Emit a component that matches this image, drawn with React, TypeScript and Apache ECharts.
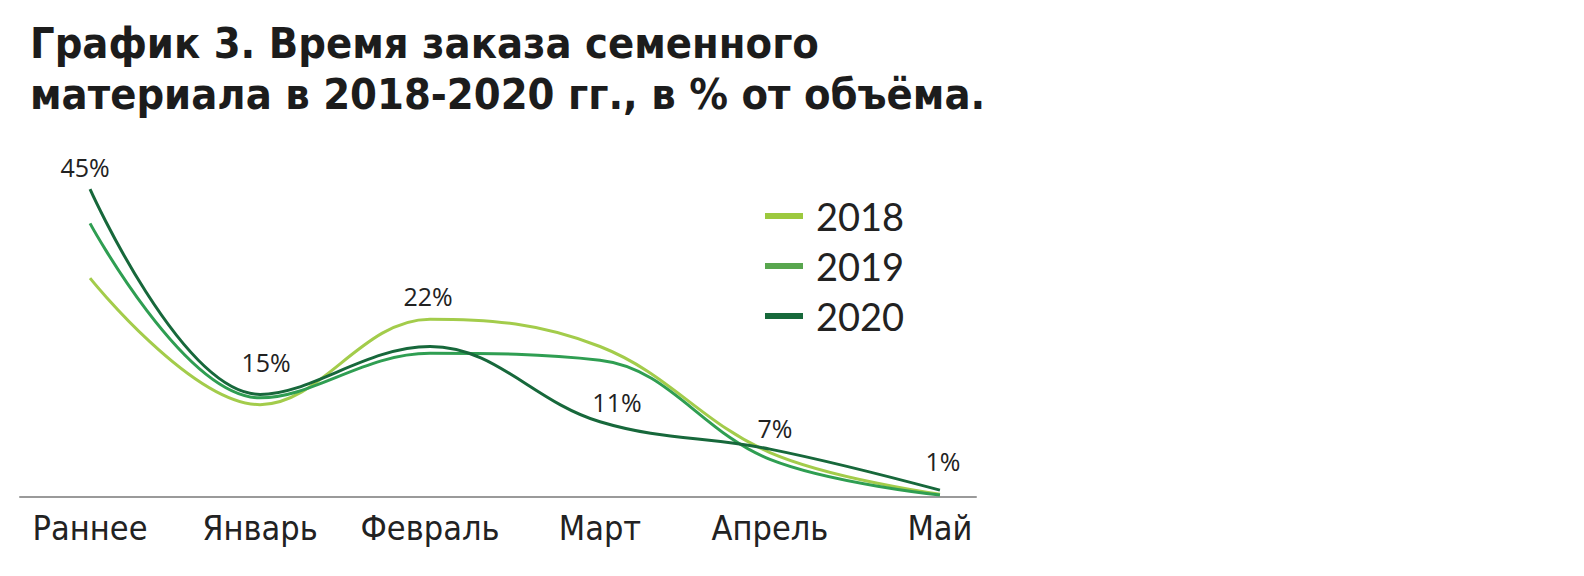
import React, { useEffect, useRef } from "react";
import * as echarts from "echarts";

const titleLines = ["График 3. Время заказа семенного", "материала в 2018-2020 гг., в % от объёма."];
const categories = ["Раннее", "Январь", "Февраль", "Март", "Апрель", "Май"];
const seriesNames = ["2018", "2019", "2020"];
const values2018 = [32, 13.5, 26, 22, 6.5, 0.4];
const values2019 = [40, 14.5, 21, 20, 5.5, 0.3];
const values2020 = [45, 15, 22, 11, 7, 1];
const pointLabels = ["45%", "15%", "22%", "11%", "7%", "1%"];
const labelOffsets = [[-5, -5], [6, -15], [-2, -33], [17, -2], [5, -4], [3, -12]];

const lineColors = ["#a3cc4b", "#2f9e52", "#17683b"];
const legendColors = ["#9cc93e", "#58a64e", "#17693b"];

export default function App() {
  const ref = useRef<HTMLDivElement>(null);
  useEffect(() => {
    document.body.style.margin = "0";
    const chart = echarts.init(ref.current!, null, { renderer: "svg" });
    const allValues = [values2018, values2019, values2020];
    const series = seriesNames.map((name, si) => ({
      name,
      type: "line",
      smooth: 0.38,
      showSymbol: true,
      symbol: "circle",
      symbolSize: 0.1,
      itemStyle: { color: legendColors[si] },
      lineStyle: { color: lineColors[si], width: 3 },
      z: 2 + si,
      data: allValues[si].map((v, i) => {
        const item: any = { value: [i, v] };
        if (si === 2) {
          item.label = {
            show: true,
            position: "top",
            offset: labelOffsets[i],
            formatter: pointLabels[i],
            fontFamily: "Open Sans",
            fontSize: 25,
            color: "#222",
          };
        }
        return item;
      }),
    }));
    chart.setOption({
      animation: false,
      backgroundColor: "#ffffff",
      title: {
        text: titleLines.join("\n"),
        left: 30,
        top: 17,
        padding: 0,
        textStyle: {
          fontFamily: "DejaVu Sans Condensed",
          fontWeight: "bold",
          fontSize: 43,
          lineHeight: 51,
          color: "#1c1c1c",
        },
      },
      legend: {
        orient: "vertical",
        left: 760,
        top: 192,
        icon: "rect",
        itemWidth: 38,
        itemHeight: 6,
        itemGap: 12,
        data: seriesNames,
        textStyle: {
          fontFamily: "Lato",
          fontSize: 38,
          lineHeight: 36,
          color: "#222",
          padding: [0, 0, 0, 8],
        },
      },
      grid: { left: 20, right: 608, top: 155, bottom: 79 },
      xAxis: {
        type: "value",
        min: -0.412,
        max: 5.212,
        axisLine: { show: true, lineStyle: { color: "#9a9a9a", width: 2 } },
        axisTick: { show: false },
        splitLine: { show: false },
        axisLabel: {
          customValues: [0, 1, 2, 3, 4, 5],
          formatter: (v: number) => categories[Math.round(v)],
          fontFamily: "DejaVu Sans Condensed",
          fontSize: 34,
          color: "#222",
          margin: 14,
        },
      },
      yAxis: { type: "value", min: 0, max: 50, show: false },
      series,
    });
    return () => chart.dispose();
  }, []);
  return <div ref={ref} style={{ width: 1584, height: 576 }} />;
}
